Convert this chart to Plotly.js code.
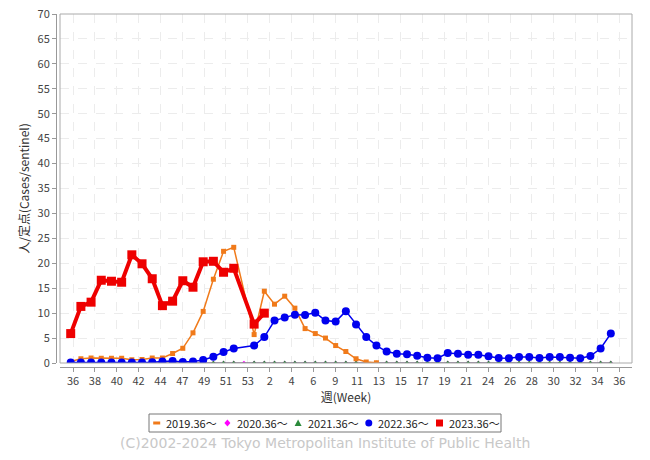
<!DOCTYPE html>
<html><head><meta charset="utf-8">
<script src="https://cdn.plot.ly/plotly-3.0.1.min.js"></script>
<style>html,body{margin:0;padding:0;background:#fff}</style>
</head><body><div id="chart" style="width:650px;height:460px"></div>
<script>
// category weeks (season starts at week 36; week 53 slot exists)
const weekLabels = [36,37,38,39,40,41,42,43,44,45,46,47,48,49,50,51,52,53,
  1,2,3,4,5,6,7,8,9,10,11,12,13,14,15,16,17,18,19,20,21,22,23,24,25,26,27,28,29,30,31,32,33,34,35,36];
const tickText = ['36','38','40','42','44','47','49','51','53','2','4','6','9','11','13','15','17','19','21','24','26','28','30','32','34','36'];

const seriesNames = ['2019.36～','2020.36～','2021.36～','2022.36～','2023.36～'];

const s2019 = [0.3,0.85,1.0,0.95,0.95,0.95,0.65,0.7,1.0,1.0,1.9,2.95,6.05,10.35,16.8,22.4,23.2,null,
  5.7,14.4,11.8,13.4,11.0,6.9,5.9,5.0,3.5,2.3,0.85,0.2,0.05];
const s2020 = [0,0,0,0,0,0,0,0,0,0,0,0,0,0,0,0,0,0,
  0,0,0,0,0,0,0,0,0,0,0,0,0,0,0,0,0,0,0,0,0,0,0,0,0,0,0,0,0,0,0,0,0,0,0,0];
const s2021 = [0,0,0,0,0,0,0,0,0,0,0,0,0,0,0,0,0,null,
  0,0,0,0,0,0,0,0,0,0,0,0,0,0,0,0,0,0,0,0,0,0,0,0,0,0,0,0,0,0,0,0,0,0,0,0];
const s2022 = [0.1,0.1,0.1,0.1,0.1,0.1,0.1,0.1,0.15,0.3,0.4,0.2,0.3,0.6,1.25,2.2,2.9,null,
  3.5,5.2,8.5,9.15,9.7,9.65,10.1,8.5,8.3,10.4,7.7,5.2,3.5,2.3,1.85,1.75,1.45,1.05,0.95,2.0,1.85,1.65,1.65,1.35,1.0,0.95,1.2,1.2,1.0,1.2,1.2,1.05,0.95,1.4,2.9,5.9];
const s2023 = [5.9,11.35,12.2,16.6,16.4,16.2,21.7,19.9,16.9,11.5,12.4,16.5,15.2,20.3,20.4,18.2,19.0,null,
  7.8,10.0];

const idx = arr => arr.map((v,i)=>i);
const FONT = 'Noto Sans CJK JP, Noto Sans, sans-serif';

const styles = {
  '2019.36～': {color:'#f07a1a', line:1.5, symbol:'square', size:5},
  '2020.36～': {color:'#ff00ff', line:1, symbol:'diamond', size:3.5},
  '2021.36～': {color:'#2a8a3a', line:1, symbol:'triangle-up', size:5},
  '2022.36～': {color:'#0000ee', line:1.5, symbol:'circle', size:8},
  '2023.36～': {color:'#ee0000', line:4, symbol:'square', size:9}
};
const dataMap = {'2019.36～':s2019,'2020.36～':s2020,'2021.36～':s2021,'2022.36～':s2022,'2023.36～':s2023};
const drawOrder = ['2020.36～','2021.36～','2019.36～','2022.36～','2023.36～'];

const traces = [];
drawOrder.forEach(name=>{
  const st = styles[name], ys = dataMap[name];
  traces.push({type:'scatter', mode:'lines+markers', x: idx(ys), y: ys, name:name, showlegend:false,
    connectgaps:true, line:{color:st.color, width:st.line},
    marker:{color:st.color, symbol:st.symbol, size:st.size}, hoverinfo:'skip'});
});

const tickVals = tickText.map((t,k)=> 0.23 + k*2.144);

const ML = 56, MT = 14, MB = 93;
const plotW = 650-ML-18, plotH = 460-MT-MB;
const PB = 460-MB; // pixel y of paper y=0
const px = p => (p-ML)/plotW;
const py = p => (PB-p)/plotH;

// manual legend (marker-only entries, like the original)
const shapes = [{type:'rect', xref:'x domain', yref:'y domain', x0:0, x1:1, y0:0, y1:1,
    line:{color:'#aaa', width:1}, fillcolor:'rgba(0,0,0,0)'},
  {type:'rect', xref:'paper', yref:'paper', x0:px(149), x1:px(501), y0:py(432), y1:py(414),
    line:{color:'#777', width:1}, fillcolor:'rgba(0,0,0,0)'}];
const annotations = [];
const legY = 423;
seriesNames.forEach((name,i)=>{
  const cx = 156.7 + i*70.7, st = styles[name];
  const base = {xref:'paper', yref:'paper', fillcolor:st.color, line:{width:0}};
  if (i===0) shapes.push(Object.assign({type:'rect', x0:px(cx-3.5), x1:px(cx+3.5), y0:py(legY+1.5), y1:py(legY-1.5)}, base));
  if (i===1) shapes.push(Object.assign({type:'path', path:`M ${px(cx)} ${py(legY-3.5)} L ${px(cx+3)} ${py(legY)} L ${px(cx)} ${py(legY+3.5)} L ${px(cx-3)} ${py(legY)} Z`}, base));
  if (i===2) shapes.push(Object.assign({type:'path', path:`M ${px(cx)} ${py(legY-3.5)} L ${px(cx+3.5)} ${py(legY+3)} L ${px(cx-3.5)} ${py(legY+3)} Z`}, base));
  if (i===3) shapes.push(Object.assign({type:'circle', x0:px(cx-3.5), x1:px(cx+3.5), y0:py(legY+3.5), y1:py(legY-3.5)}, base));
  if (i===4) shapes.push(Object.assign({type:'rect', x0:px(cx-3.5), x1:px(cx+3.5), y0:py(legY+3.5), y1:py(legY-3.5)}, base));
  annotations.push({xref:'paper', yref:'paper', x:px(cx+7.5), y:py(legY), xanchor:'left', yanchor:'middle',
    text:name, showarrow:false, font:{size:11, color:'#222', family:FONT}});
});
annotations.push({xref:'paper', yref:'paper', x:px(325), y:py(443), xanchor:'center', yanchor:'middle',
    text:'(C)2002-2024 Tokyo Metropolitan Institute of Public Health', showarrow:false,
    font:{size:14, color:'#c8c8c8', family:'DejaVu Sans, sans-serif'}});

const layout = {
  width:650, height:460, showlegend:false,
  margin:{l:ML, r:18, t:MT, b:MB},
  paper_bgcolor:'#fff', plot_bgcolor:'#fff',
  font:{family:FONT, size:11, color:'#444'},
  xaxis:{domain:[4/plotW,1], range:[-1.05,55.08], anchor:'free', position:0,
    showline:true, linecolor:'#999', linewidth:1, ticks:'outside', ticklen:4, tickcolor:'#999',
    tickvals:tickVals, ticktext:tickText, showgrid:true, gridcolor:'#ececec', griddash:'dash', gridwidth:1,
    zeroline:false, tickfont:{size:11, color:'#444', family:FONT},
    title:{text:'週(Week)', font:{size:12, color:'#333', family:FONT}, standoff:4}},
  yaxis:{domain:[4/plotH,1], range:[0,70], anchor:'free', position:0, dtick:5, tick0:0,
    showline:true, linecolor:'#999', linewidth:1, ticks:'outside', ticklen:4, tickcolor:'#999',
    showgrid:true, gridcolor:'#ececec', griddash:'dash', gridwidth:1, zeroline:false,
    tickfont:{size:11, color:'#444', family:FONT},
    title:{text:'人/定点(Cases/sentinel)', font:{size:12, color:'#333', family:FONT}, standoff:4}},
  shapes: shapes,
  annotations: annotations
};
Plotly.newPlot('chart', traces, layout, {displayModeBar:false, staticPlot:true});
</script></body></html>
